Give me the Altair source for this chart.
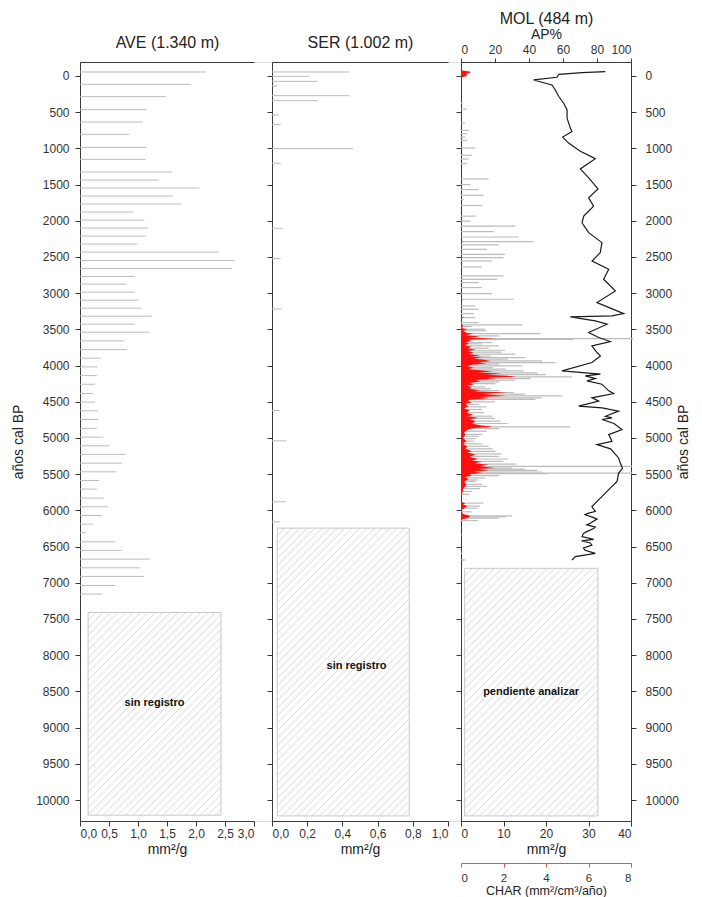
import altair as alt
import pandas as pd

# ---------------- data ----------------
# AVE (mm2/g)
ave_age = [-55, 115, 286, 465, 636, 806, 986, 1152, 1327, 1438, 1548, 1659, 1769, 1880,
           1991, 2101, 2212, 2322, 2433, 2548, 2659, 2769, 2875, 2986, 3097, 3207, 3318,
           3428, 3539, 3659, 3779, 3898, 4018, 4138, 4258, 4385, 4505, 4624, 4744, 4868,
           4988, 5108, 5227, 5347, 5467, 5587, 5706, 5831, 5950, 6070, 6190, 6309, 6434,
           6553, 6673, 6793, 6912, 7037, 7156]
ave_val = [2.17, 1.91, 1.48, 1.15, 1.08, 0.85, 1.14, 1.13, 1.59, 1.36, 2.06, 1.60, 1.75, 0.92,
           1.11, 1.17, 1.13, 0.99, 2.40, 2.66, 2.62, 0.94, 0.80, 0.94, 1.01, 1.05, 1.24,
           0.94, 1.20, 0.77, 0.81, 0.36, 0.30, 0.29, 0.26, 0.22, 0.26, 0.30, 0.31, 0.29,
           0.40, 0.51, 0.79, 0.72, 0.63, 0.33, 0.29, 0.41, 0.48, 0.38, 0.22, 0.10, 0.61,
           0.72, 1.21, 1.03, 1.10, 0.61, 0.38]

# SER (mm2/g)
ser_age = [-55, 5, 74, 138, 272, 341, 539, 672, 1004, 1206, 2104, 2523, 3218, 4621, 5040, 5881, 6157]
ser_val = [0.44, 0.21, 0.26, 0.03, 0.44, 0.26, 0.04, 0.05, 0.46, 0.05, 0.06, 0.05, 0.055,
           0.044, 0.083, 0.08, 0.046]

# MOL charcoal concentration (mm2/g)
mol_age = [-50, -20, 376, 459, 651, 752, 798, 844, 890, 995, 1096, 1147, 1211, 1422, 1500,
           1569, 1647, 1706, 1789, 1936, 2005, 2073, 2150, 2224, 2288, 2334, 2394, 2463, 2509,
           2555, 2638, 2762, 2808, 2854, 2923, 3006, 3084, 3176, 3222, 3282, 3337, 3406, 3438,
           3460, 3498, 3520, 3558, 3590, 3627, 3640, 3682, 3700, 3728, 3760, 3788, 3815, 3843,
           3870, 3889, 3910, 3935, 3958, 3980, 4004, 4030, 4050, 4073, 4100, 4125, 4156, 4180,
           4202, 4225, 4248, 4294, 4320, 4345, 4372, 4395, 4418, 4445, 4468, 4500, 4537, 4570,
           4606, 4650, 4699, 4730, 4768, 4800, 4846, 4870, 4907, 4950, 4976, 5010, 5045, 5080,
           5114, 5150, 5184, 5220, 5253, 5290, 5322, 5360, 5392, 5415, 5430, 5447, 5470, 5484,
           5493, 5520, 5553, 5580, 5600, 5640, 5669, 5700, 5738, 5780, 5900, 5940, 5969, 6020,
           6075, 6090, 6108, 6140, 6339, 6593, 6685]
mol_val = [2.0, 1.0, 0.4, 1.4, 1.0, 1.8, 1.4, 1.0, 1.4, 3.4, 2.6, 1.8, 1.4, 6.5, 2.2,
           4.2, 5.3, 0.6, 4.9, 3.4, 2.2, 12.8, 7.7, 13.6, 17.1, 8.9, 6.1, 10.4, 10.0,
           7.3, 4.9, 10.0, 8.5, 4.2, 4.9, 7.3, 12.4, 3.4, 4.2, 3.0, 3.4, 4.2, 14.4,
           2.5, 5.7, 6.0, 18.7, 9.0, 40.5, 26.5, 7.3, 5.0, 8.9, 6.5, 10.4, 9.5, 12.8,
           7.0, 15.1, 11.0, 19.1, 22.2, 9.0, 14.4, 7.5, 10.5, 14.7, 18.0, 20.0, 26.1, 16.5,
           12.8, 9.0, 8.1, 5.7, 7.0, 9.0, 12.4, 15.0, 23.8, 19.0, 17.5, 8.0, 4.2, 6.0,
           4.9, 5.5, 7.3, 8.0, 9.3, 11.0, 25.7, 9.0, 6.1, 5.0, 4.2, 3.5, 3.0, 5.0,
           6.5, 7.5, 8.1, 9.5, 8.9, 11.0, 10.0, 13.0, 40.3, 12.0, 15.0, 17.9, 19.0, 40.3,
           20.6, 9.0, 5.7, 4.0, 3.4, 5.0, 6.1, 4.5, 2.6, 2.0, 5.3, 4.5, 3.8, 2.5,
           12.0, 10.5, 8.9, 4.0, 0.3, 0.3, 1.0]

# MOL CHAR (mm2/cm3/año)
char_age = [-80, -60, -45, -30, -10, 10, 25, 990, 1000, 1010, 2280, 2288, 2296, 2500, 2509, 2518,
            3075, 3084, 3093, 3325, 3337, 3349,
            3420, 3450, 3480, 3500, 3520, 3545, 3560, 3580, 3600, 3615, 3627, 3640, 3660, 3680,
            3700, 3720, 3740, 3760, 3780, 3800, 3820, 3840, 3860, 3875, 3890, 3905, 3920, 3940,
            3955, 3970, 3990, 4010, 4030, 4050, 4065, 4080, 4095, 4110, 4125, 4140, 4156, 4170,
            4185, 4200, 4220, 4240, 4260, 4280, 4300, 4320, 4340, 4355, 4372, 4390, 4405, 4420,
            4435, 4450, 4470, 4490, 4510, 4530, 4560, 4590, 4620, 4650, 4680, 4700, 4720, 4740,
            4770, 4800, 4825, 4846, 4865, 4890, 4920, 4960, 5000, 5040, 5080, 5120, 5150, 5180,
            5200, 5230, 5260, 5290, 5310, 5330, 5350, 5370, 5392, 5415, 5430, 5447, 5465, 5484,
            5500, 5520, 5540, 5570, 5600, 5650, 5700, 5750, 5800,
            5880, 5900, 5920, 5940, 5970, 6000, 6050, 6075, 6100, 6130,
            6330, 6340, 6350, 6680, 6690, 6700]
char_val = [0, 0.45, 0.42, 0.25, 0.3, 0.15, 0, 0, 0.05, 0, 0, 0.1, 0, 0, 0.08, 0,
            0, 0.1, 0, 0, 0.15, 0,
            0, 0.1, 0.05, 0.3, 0.1, 0.25, 0.6, 0.2, 0.9, 0.4, 1.7, 0.3, 0.5, 0.2,
            0.4, 0.15, 0.5, 0.3, 0.7, 0.3, 0.6, 0.35, 0.9, 0.5, 1.0, 0.6, 1.1, 1.4,
            0.8, 1.2, 0.5, 0.3, 0.6, 0.35, 0.9, 1.5, 0.8, 1.9, 1.2, 2.2, 2.6, 1.2,
            1.7, 0.7, 0.9, 0.4, 0.6, 0.3, 0.5, 0.4, 0.9, 0.6, 2.2, 1.0, 1.6, 2.1,
            0.9, 1.3, 0.5, 0.3, 0.5, 0.2, 0.35, 0.15, 0.4, 0.25, 0.6, 0.3, 0.8, 0.4,
            0.7, 0.5, 0.9, 1.5, 0.5, 0.3, 0.15, 0.2, 0.1, 0.25, 0.1, 0.3, 0.2, 0.5,
            0.3, 0.7, 0.4, 0.8, 0.5, 1.0, 0.6, 1.3, 0.9, 1.6, 0.8, 1.3, 0.6, 1.0,
            0.4, 0.5, 0.2, 0.35, 0.15, 0.25, 0.1, 0.08, 0,
            0, 0.2, 0.1, 0.3, 0.15, 0, 0.1, 0.44, 0.35, 0,
            0, 0.05, 0, 0, 0.08, 0]

# MOL AP %
ap_age = [-60, -46, -23, 18, 55, 124, 193, 284, 376, 468, 583, 720, 766, 844, 927, 1041, 1142,
          1284, 1408, 1560, 1683, 1798, 1936, 2027, 2095, 2164, 2302, 2440, 2555, 2670, 2808,
          2969, 3130, 3282, 3314, 3328, 3383, 3429, 3544, 3613, 3668, 3728, 3820, 3866, 3958,
          4073, 4119, 4142, 4180, 4211, 4257, 4349, 4386, 4445, 4491, 4560, 4583, 4629, 4700,
          4722, 4745, 4800, 4883, 4953, 5045, 5091, 5150, 5276, 5345, 5420, 5484, 5600, 5692,
          5807, 5946, 6015, 6038, 6060, 6100, 6120, 6177, 6200, 6230, 6250, 6293, 6320, 6362,
          6400, 6420, 6450, 6480, 6520, 6550, 6593, 6639, 6685]
ap_val = [84.9, 71.2, 57.5, 56.5, 42.7, 53.5, 55.5, 57.5, 60.4, 62.4, 62.4, 64.3, 65.3, 59.8,
          63.3, 70.2, 79.0, 70.2, 75.1, 80.6, 75.1, 78.0, 72.2, 71.2, 73.1, 75.1, 82.9, 81.9,
          77.1, 86.9, 83.9, 90.8, 80.0, 95.7, 88.8, 64.3, 79.0, 85.9, 75.1, 81.0, 87.8, 77.0,
          80.0, 82.0, 77.0, 59.4, 82.0, 73.1, 79.0, 74.1, 82.9, 86.9, 89.8, 77.0, 81.0, 69.2,
          83.0, 92.7, 85.0, 88.8, 83.0, 90.0, 94.7, 86.9, 88.8, 80.0, 88.0, 92.7, 93.7, 95.0,
          92.7, 91.8, 87.8, 83.0, 77.0, 79.0, 75.0, 73.0, 78.0, 80.0, 76.0, 74.0, 79.0, 78.0,
          74.0, 72.0, 71.2, 78.0, 71.0, 76.0, 77.0, 72.0, 73.0, 79.0, 67.2, 65.3]

# "sin registro" boxes: (x from, x to, age from, age to)
ave_box = [0.14, 2.43, 7410, 10210]
ser_box = [0.03, 0.78, 6245, 10220]
mol_box = [0.85, 32.2, 6800, 10220]

y_ticks = list(range(0, 10001, 500))

# ---------------- layout constants ----------------
Y_DOM = [-193, 10290]
W, H = 551, 759
AVE_DOM, AVE_RNG = [0, 3], [0, 174]
SER_DOM, SER_RNG = [0, 1], [192, 368]
MOL_DOM, MOL_RNG = [0, 40], [381, 551]
CHAR_DOM = [0, 8]
AP_DOM = [0, 100]

FONT = "Liberation Sans"
AX = "#3a3a3a"
LAB = "#333333"
BAR = "#bcbcbc"
RED = "#ff1010"
HATCH = "#cfcfcf"


def xsc(dom, rng):
    return alt.Scale(domain=dom, range=rng, nice=False, zero=False)


ysc = alt.Scale(domain=Y_DOM, reverse=True, nice=False, zero=False)
comma_expr = "replace(format(datum.value, '.1f'), '.', ',')"


def hatch(dom, rng, box, step=7.5):
    bx0, bx1, ba0, ba1 = box

    def to_px(v):
        return rng[0] + (v - dom[0]) / (dom[1] - dom[0]) * (rng[1] - rng[0])

    def to_py(a):
        return (a - Y_DOM[0]) / (Y_DOM[1] - Y_DOM[0]) * H

    def from_px(p):
        return dom[0] + (p - rng[0]) / (rng[1] - rng[0]) * (dom[1] - dom[0])

    def from_py(p):
        return Y_DOM[0] + p / H * (Y_DOM[1] - Y_DOM[0])

    x0, x1, y0, y1 = to_px(bx0), to_px(bx1), to_py(ba0), to_py(ba1)
    rows = []
    c = x0 + y0 + step
    while c < x1 + y1:
        xa = max(x0, c - y1)
        xb = min(x1, c - y0)
        if xb > xa:
            rows.append({"x": from_px(xa), "y": from_py(c - xa),
                         "x2": from_px(xb), "y2": from_py(c - xb)})
        c += step
    return pd.DataFrame(rows)


def box_df(box):
    return pd.DataFrame([{"x": box[0], "x2": box[1], "y": box[2], "y2": box[3]}])


def hatch_layer(dom, rng, box):
    return alt.Chart(hatch(dom, rng, box)).mark_rule(color=HATCH, strokeWidth=0.8).encode(
        x=alt.X("x:Q", scale=xsc(dom, rng), axis=None),
        x2="x2:Q",
        y=alt.Y("y:Q", scale=ysc, axis=None),
        y2="y2:Q",
    )


def box_layer(dom, rng, box, xaxis):
    return alt.Chart(box_df(box)).mark_rect(fillOpacity=0, stroke="#c8c8c8", strokeWidth=1).encode(
        x=alt.X("x:Q", scale=xsc(dom, rng), axis=xaxis),
        x2="x2:Q",
        y=alt.Y("y:Q", scale=ysc, axis=None),
        y2="y2:Q",
    )


def text_layer(dom, rng, xv, av, txt):
    df = pd.DataFrame([{"x": xv, "y": av, "t": txt}])
    return alt.Chart(df).mark_text(fontSize=11, fontWeight="bold", color="#111", font=FONT).encode(
        x=alt.X("x:Q", scale=xsc(dom, rng), axis=None),
        y=alt.Y("y:Q", scale=ysc, axis=None),
        text="t:N",
    )


def top_title_axis(title, pad, domain=True):
    return alt.Axis(orient="top", title=title, labels=False, ticks=False, domain=domain,
                    domainColor=AX, titleFontSize=16, titleFontWeight="normal",
                    titleColor="#222", titlePadding=pad, titleFont=FONT)


def bottom_axis(values, title, label_expr=None, **kw):
    args = dict(orient="bottom", values=values, title=title, tickSize=5, labelPadding=2,
                domainColor=AX, tickColor=AX, labelColor=LAB, labelFontSize=12,
                titleFontSize=14, titleFontWeight="normal", titleColor="#222",
                titlePadding=3, labelFont=FONT, titleFont=FONT)
    if label_expr:
        args["labelExpr"] = label_expr
    args.update(kw)
    return alt.Axis(**args)


# ---------------- AVE ----------------
ave_df = pd.DataFrame({"age": ave_age, "val": ave_val})
ave_bars = alt.Chart(ave_df).mark_rule(color=BAR, strokeWidth=1).encode(
    x=alt.X("val:Q", scale=xsc(AVE_DOM, AVE_RNG),
            axis=bottom_axis([0, 0.5, 1, 1.5, 2, 2.5, 3], "mm²/g", comma_expr)),
    x2=alt.datum(0),
    y=alt.Y("age:Q", scale=ysc,
            axis=alt.Axis(orient="left", values=y_ticks, format="d", title="años cal BP",
                          tickSize=5, labelPadding=6, domainColor=AX, tickColor=AX,
                          labelColor=LAB, labelFontSize=12, titleFontSize=14,
                          titleFontWeight="normal", titleColor="#222", titlePadding=10,
                          labelFont=FONT, titleFont=FONT)),
)

# ---------------- SER ----------------
ser_df = pd.DataFrame({"age": ser_age, "val": ser_val})
ser_bars = alt.Chart(ser_df).mark_rule(color=BAR, strokeWidth=1).encode(
    x=alt.X("val:Q", scale=xsc(SER_DOM, SER_RNG),
            axis=bottom_axis([0, 0.2, 0.4, 0.6, 0.8, 1.0], "mm²/g", comma_expr)),
    x2=alt.datum(0),
    y=alt.Y("age:Q", scale=ysc,
            axis=alt.Axis(orient="left", values=y_ticks, labels=False, title=None,
                          tickSize=5, domainColor=AX, tickColor=AX, offset=-SER_RNG[0])),
)

# ---------------- MOL ----------------
mol_df = pd.DataFrame({"age": mol_age, "val": mol_val})
mol_bars = alt.Chart(mol_df).mark_rule(color=BAR, strokeWidth=1.2).encode(
    x=alt.X("val:Q", scale=xsc(MOL_DOM, MOL_RNG),
            axis=bottom_axis([0, 10, 20, 30, 40], "mm²/g")),
    x2=alt.datum(0),
    y=alt.Y("age:Q", scale=ysc,
            axis=alt.Axis(orient="left", values=y_ticks, labels=False, title=None,
                          tickSize=5, domainColor=AX, tickColor=AX, offset=-MOL_RNG[0])),
)

char_df = pd.DataFrame({"age": char_age, "char": char_val})
char_area = alt.Chart(char_df).mark_area(orient="horizontal", color=RED, interpolate="linear").encode(
    x=alt.X("char:Q", scale=xsc(CHAR_DOM, MOL_RNG),
            axis=bottom_axis([0, 2, 4, 6, 8], "CHAR (mm²/cm³/año)", offset=42,
                             domainColor="#e8504a", tickColor="#e8504a", tickSize=4,
                             labelPadding=5, labelFontSize=11.5, titlePadding=1,
                             titleFontSize=12.5)),
    x2=alt.datum(0),
    y=alt.Y("age:Q", scale=ysc, axis=None),
)

ap_df = pd.DataFrame({"age": ap_age, "ap": ap_val})
ap_line = alt.Chart(ap_df).mark_line(color="#1a1a1a", strokeWidth=1.2).encode(
    x=alt.X("ap:Q", scale=xsc(AP_DOM, MOL_RNG),
            axis=alt.Axis(orient="top", values=[0, 20, 40, 60, 80, 100], title="AP%",
                          tickSize=4, labelPadding=2, domainColor=AX, tickColor=AX,
                          labelColor=LAB, labelFontSize=12, titleFontSize=14,
                          titleFontWeight="normal", titleColor="#222", titlePadding=2,
                          labelFont=FONT, titleFont=FONT)),
    y=alt.Y("age:Q", scale=ysc,
            axis=alt.Axis(orient="right", values=y_ticks, format="d", title="años cal BP",
                          titleAngle=270, tickSize=5, labelPadding=9, domainColor=AX,
                          tickColor=AX, labelColor=LAB, labelFontSize=12, titleFontSize=14,
                          titleFontWeight="normal", titleColor="#222", titlePadding=12,
                          labelFont=FONT, titleFont=FONT)),
    order="age:Q",
)

layers = [
    hatch_layer(AVE_DOM, AVE_RNG, ave_box),
    box_layer(AVE_DOM, AVE_RNG, ave_box, top_title_axis("AVE (1.340 m)", 12)),
    text_layer(AVE_DOM, AVE_RNG, 1.285, 8660, "sin registro"),
    ave_bars,
    hatch_layer(SER_DOM, SER_RNG, ser_box),
    box_layer(SER_DOM, SER_RNG, ser_box, top_title_axis("SER (1.002 m)", 12)),
    text_layer(SER_DOM, SER_RNG, 0.48, 8150, "sin registro"),
    ser_bars,
    hatch_layer(MOL_DOM, MOL_RNG, mol_box),
    box_layer(MOL_DOM, MOL_RNG, mol_box, top_title_axis("MOL (484 m)", 36, domain=False)),
    text_layer(MOL_DOM, MOL_RNG, 16.5, 8510, "pendiente analizar"),
    mol_bars,
    char_area,
    ap_line,
]

chart = alt.layer(*layers).resolve_scale(x="independent").resolve_axis(y="independent").properties(
    width=W, height=H,
    padding={"left": 3, "top": 2, "right": 0, "bottom": 0},
).configure_view(stroke=None).configure(font=FONT, background="white")

chart.save("out.html", embed_options={"renderer": "svg", "actions": False})
